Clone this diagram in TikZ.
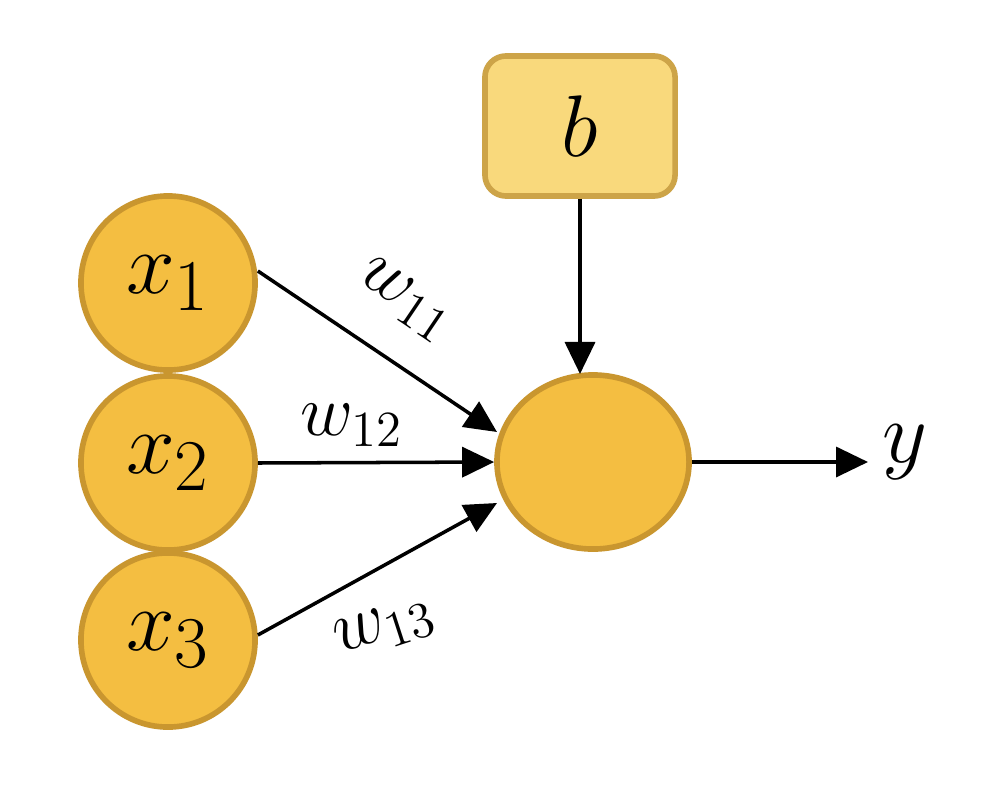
\documentclass[tikz,border=0pt]{standalone}
\usetikzlibrary{arrows.meta,shapes.geometric}
\definecolor{cfill}{HTML}{F4BE41}
\definecolor{cdraw}{HTML}{C9962F}
\definecolor{bfill}{HTML}{F9D97C}
\definecolor{bdraw}{HTML}{CDA448}
\begin{document}
\begin{tikzpicture}[x=0.01cm,y=-0.01cm,
  inp/.style={circle,fill=cfill,draw=cdraw,line width=1.6pt,minimum size=1.74cm,inner sep=0pt,font=\fontsize{30}{36}\selectfont},
  neu/.style={ellipse,fill=cfill,draw=cdraw,line width=1.6pt,minimum width=1.92cm,minimum height=1.74cm,inner sep=0pt},
  bias/.style={rounded corners=6pt,fill=bfill,draw=bdraw,line width=1.6pt,minimum width=1.9cm,minimum height=1.4cm,font=\fontsize{30}{36}\selectfont},
  conn/.style={line width=1pt,-{Triangle[length=0.32cm,width=0.3cm]}},
  wl/.style={font=\fontsize{22}{26}\selectfont,inner sep=1pt}]
\fill[white] (0,0) rectangle (989,794);
\node[inp] (x1) at (168,283) {$x_{\mathrm{1}}$};
\node[inp] (x2) at (168,463) {$x_{\mathrm{2}}$};
\node[inp] (x3) at (168,640) {$x_{\mathrm{3}}$};
\node[neu] (n) at (593,462) {};
\node[bias] (b) at (580,126) {$b$};
\coordinate (y) at (868,462);
\coordinate (bt) at (580,374);
\node[font=\fontsize{30}{36}\selectfont] (yl) at (905,452) {$y$};
\draw[conn] (x1.east) ++(0,-12) -- (497,432);
\draw[conn] (x2.east) -- (n.west);
\draw[conn] (x3.east) ++(0,-5) -- (497,503);
\draw[conn] (b.south) -- (bt);
\draw[conn] (n.east) -- (y);
\node[wl,rotate=-34] (w11) at (405,300) {$w_{11}$};
\node[wl] (w12) at (352,425) {$w_{12}$};
\node[wl,rotate=18] (w13) at (385,628) {$w_{13}$};
\end{tikzpicture}
\end{document}
